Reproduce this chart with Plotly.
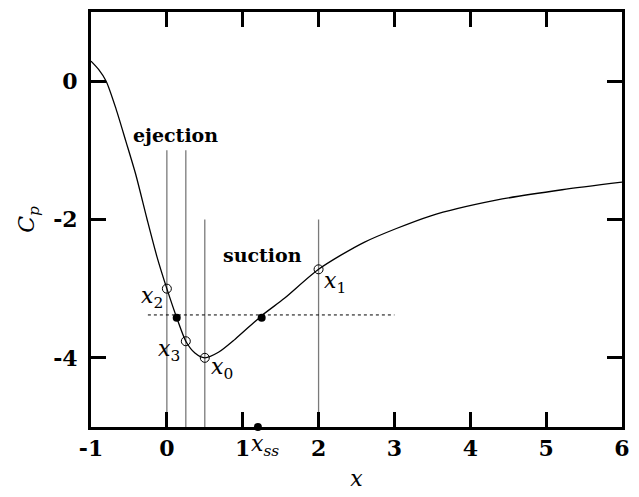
import plotly.graph_objects as go

# Pressure coefficient profile along x
curve_x = [-1.0, -0.9, -0.8, -0.67, -0.54, -0.41, -0.26, -0.13, 0.0, 0.13, 0.25, 0.37, 0.5,
           0.68, 0.9, 1.25, 1.55, 2.0, 2.6, 3.47, 4.34, 5.21, 6.0]
curve_cp = [0.29, 0.17, 0.0, -0.40, -0.87, -1.35, -2.0, -2.54, -3.0, -3.42, -3.76, -3.93, -4.0,
            -3.92, -3.73, -3.39, -3.14, -2.72, -2.33, -1.95, -1.72, -1.57, -1.46]

# Marked points on the curve
open_x = [0.0, 0.25, 0.5, 2.0]
open_cp = [-3.0, -3.76, -4.0, -2.72]
open_names = ["<i>x</i><sub>2</sub>", "<i>x</i><sub>3</sub>", "<i>x</i><sub>0</sub>", "<i>x</i><sub>1</sub>"]
label_x = [-0.19, 0.03, 0.73, 2.22]
label_cp = [-3.13, -3.90, -4.16, -2.91]

filled_x = [0.13, 1.25]
filled_cp = [-3.42, -3.42]

# Reference level (dotted) and vertical markers
level_cp = -3.38
level_x = [-0.25, 3.0]
vline_x = [0.0, 0.25, 0.5, 2.0]
vline_top = [-1.0, -1.0, -2.0, -2.0]

xss = 1.2

x_ticks = [-1, 0, 1, 2, 3, 4, 5, 6]
y_ticks = [0, -2, -4]

SERIF = "DejaVu Serif"

fig = go.Figure()

for vx, vt in zip(vline_x, vline_top):
    fig.add_trace(go.Scatter(x=[vx, vx], y=[-5, vt], mode="lines",
                             line=dict(color="#7a7a7a", width=1.3),
                             showlegend=False, hoverinfo="skip"))

fig.add_trace(go.Scatter(x=level_x, y=[level_cp, level_cp], mode="lines",
                         line=dict(color="black", width=1, dash="3px,3px"),
                         showlegend=False))

fig.add_trace(go.Scatter(x=curve_x, y=curve_cp, mode="lines",
                         line=dict(color="black", width=1.3, shape="spline", smoothing=0.7),
                         showlegend=False))

fig.add_trace(go.Scatter(x=open_x, y=open_cp, mode="markers",
                         marker=dict(symbol="circle-open", size=9, color="black",
                                     line=dict(width=1)),
                         showlegend=False))

fig.add_trace(go.Scatter(x=filled_x, y=filled_cp, mode="markers",
                         marker=dict(symbol="circle", size=8, color="black"),
                         showlegend=False))

fig.add_trace(go.Scatter(x=[xss], y=[-5], mode="markers",
                         marker=dict(symbol="circle", size=8, color="black"),
                         cliponaxis=False, showlegend=False))

for name, lx, ly in zip(open_names, label_x, label_cp):
    fig.add_annotation(x=lx, y=ly, text=name, showarrow=False,
                       font=dict(family=SERIF, size=22, color="black"))

fig.add_annotation(x=1.29, xref="x", y=-0.045, yref="paper", yanchor="middle",
                   text="<i>x<sub>ss</sub></i>",
                   showarrow=False, font=dict(family=SERIF, size=22, color="black"))
fig.add_annotation(x=0.12, y=-0.78, text="<b>ejection</b>", showarrow=False,
                   font=dict(family=SERIF, size=19, color="black"))
fig.add_annotation(x=1.26, y=-2.52, text="<b>suction</b>", showarrow=False,
                   font=dict(family=SERIF, size=19, color="black"))

axis_common = dict(showline=True, linewidth=3, linecolor="black", mirror="ticks",
                   ticks="inside", ticklen=15, tickwidth=3, tickcolor="black",
                   showgrid=False, zeroline=False,
                   tickfont=dict(family=SERIF, size=22, color="black"))

fig.update_xaxes(range=[-1, 6], tickvals=x_ticks, ticktext=["<b>%d</b>" % t for t in x_ticks],
                 title=dict(text="<i>x</i>", font=dict(family=SERIF, size=22, color="black"),
                            standoff=11),
                 **axis_common)
fig.update_yaxes(range=[-5, 1], tickvals=y_ticks, ticktext=["<b>%d</b>" % t for t in y_ticks],
                 ticklabelstandoff=6,
                 title=dict(text="<i>C<sub>p</sub></i>", font=dict(family=SERIF, size=22, color="black"),
                            standoff=13),
                 **axis_common)

fig.update_layout(width=639, height=497, margin=dict(l=91, r=12, t=9, b=68),
                  plot_bgcolor="white", paper_bgcolor="white")

fig.write_html("out.html")
